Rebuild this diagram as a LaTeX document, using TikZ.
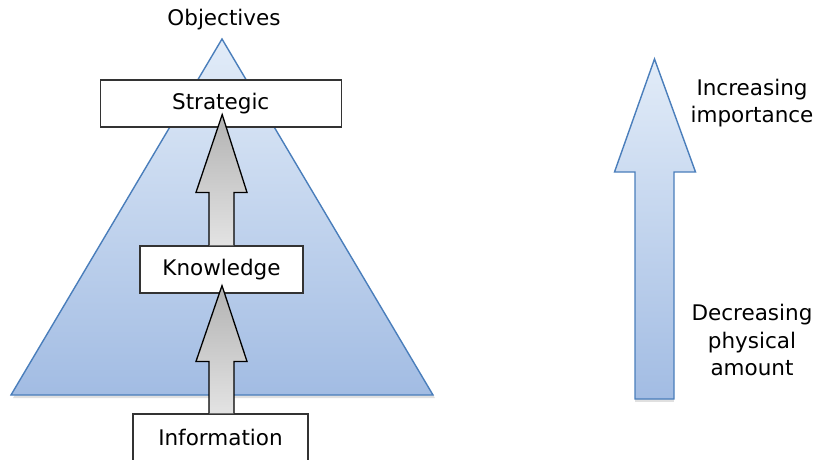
\documentclass[tikz,border=0pt]{standalone}
\usepackage{fontspec}
\setmainfont{DejaVu Sans}
\usetikzlibrary{calc}
\definecolor{edgeblue}{HTML}{4A7EBB}
\definecolor{toplight}{HTML}{E2ECF8}
\definecolor{botblue}{HTML}{A2BCE3}
\definecolor{boxline}{HTML}{333333}
\tikzset{
  lbl/.style={font=\fontsize{21.5}{27.5}\selectfont, align=center, inner sep=0pt},
  levelbox/.style={draw=boxline, line width=1.2pt, fill=white, font=\fontsize{21.5}{24}\selectfont, inner sep=0pt},
  bluefill/.style={draw=edgeblue, line width=1.4pt, top color=toplight, bottom color=botblue, line join=miter},
  grayarrow/.style={draw=black, line width=1.3pt, top color=black!30, bottom color=black!11, line join=miter},
}
\begin{document}
\begin{tikzpicture}[x=1pt,y=-1pt]
\useasboundingbox (0,0) rectangle (814,460);
\clip (0,0) rectangle (814,460);
% pyramid
\coordinate (apex) at (222,39);
\coordinate (bl) at (11,395);
\coordinate (br) at (433,395);
\fill[black, opacity=0.12] ($(bl)+(2,3)$) -- ($(apex)+(0,3)$) -- ($(br)+(2,3)$) -- cycle;
\draw[bluefill] (bl) -- (apex) -- (br) -- cycle;
\node[lbl] (obj) at (224,20) {Objectives};
% boxes
\node[levelbox, minimum width=241pt, minimum height=47pt] (strat) at (220.7,103.5) {Strategic};
\node[levelbox, minimum width=163pt, minimum height=47pt] (know) at (221.5,269.5) {Knowledge};
\node[levelbox, minimum width=175pt, minimum height=47pt] (info) at (220.5,437.5) {Information};
% gray arrows
\coordinate (t1) at ($(strat.south)+(1.5,-13)$);
\draw[grayarrow] ($(know.north)+(-12.5,0)$) -- ($(know.north)+(-12.5,-53)$) -- ($(know.north)+(-25.5,-53)$)
  -- (t1) -- ($(know.north)+(25.5,-53)$) -- ($(know.north)+(12.5,-53)$) -- ($(know.north)+(12.5,0)$);
\coordinate (t2) at ($(know.south)+(0.5,-8)$);
\draw[grayarrow] ($(info.north)+(-11.5,0)$) -- ($(info.north)+(-11.5,-52)$) -- ($(info.north)+(-24.5,-52)$)
  -- (t2) -- ($(info.north)+(26.5,-52)$) -- ($(info.north)+(13.5,-52)$) -- ($(info.north)+(13.5,0)$);
% right arrow
\coordinate (rtip) at (654.5,59);
\coordinate (rbase) at (654.5,399);
\fill[black, opacity=0.12] ($(rbase)+(-19.5,3)$) -- ($(rbase)+(19.5,3)$) -- ($(rbase)+(19.5,-227)$) -- ($(rbase)+(-19.5,-227)$) -- cycle;
\draw[bluefill] ($(rbase)+(-19.5,0)$) -- ($(rbase)+(-19.5,-227)$) -- ($(rbase)+(-40,-227)$) -- (rtip)
  -- ($(rbase)+(41,-227)$) -- ($(rbase)+(19.5,-227)$) -- ($(rbase)+(19.5,0)$) -- cycle;
\node[lbl] (inc) at (752,103) {Increasing\\importance};
\node[lbl] (dec) at (752,340) {Decreasing\\physical\\amount};
\end{tikzpicture}
\end{document}
